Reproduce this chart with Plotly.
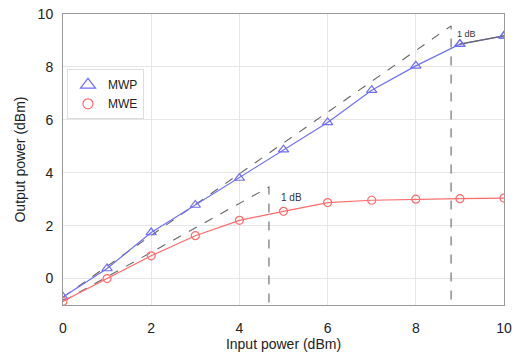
import plotly.graph_objects as go

# Data
input_power = [0, 1, 2, 3, 4, 5, 6, 7, 8, 9, 10]
mwp_output = [-0.7, 0.38, 1.74, 2.78, 3.8, 4.87, 5.9, 7.12, 8.04, 8.86, 9.17]
mwe_output = [-0.86, 0.0, 0.86, 1.62, 2.2, 2.54, 2.87, 2.96, 3.0, 3.02, 3.04]

# 1 dB compression reference lines (linear extrapolation then drop to axis)
mwp_ref_x = [0, 8.8, 8.8]
mwp_ref_y = [-0.7, 9.55, -1]
mwe_ref_x = [0, 4.67, 4.67]
mwe_ref_y = [-0.86, 3.46, -1]

x_ticks = [0, 2, 4, 6, 8, 10]
y_ticks = [0, 2, 4, 6, 8, 10]

blue = "#6f6ff5"
red = "#ff6b6b"
gray = "#666666"

fig = go.Figure()

fig.add_trace(go.Scatter(x=mwp_ref_x, y=mwp_ref_y, mode="lines",
                         line=dict(color=gray, width=1.1, dash="dash"),
                         showlegend=False, hoverinfo="skip"))
fig.add_trace(go.Scatter(x=mwe_ref_x, y=mwe_ref_y, mode="lines",
                         line=dict(color=gray, width=1.1, dash="dash"),
                         showlegend=False, hoverinfo="skip"))

fig.add_trace(go.Scatter(x=input_power, y=mwp_output, mode="lines+markers",
                         line=dict(color=blue, width=1.2),
                         marker=dict(symbol="triangle-up-open", size=9, color=blue, line=dict(width=1.2)),
                         showlegend=False))
fig.add_trace(go.Scatter(x=input_power[-2:], y=mwp_output[-2:], mode="lines",
                         line=dict(color="#666666", width=1.2),
                         showlegend=False, hoverinfo="skip"))
fig.add_trace(go.Scatter(x=input_power[-2:], y=mwp_output[-2:], mode="markers",
                         marker=dict(symbol="triangle-up-open", size=9, color=blue, line=dict(width=1.2)),
                         showlegend=False, hoverinfo="skip"))
fig.add_trace(go.Scatter(x=input_power, y=mwe_output, mode="lines+markers",
                         line=dict(color=red, width=1.2),
                         marker=dict(symbol="circle-open", size=8, color=red, line=dict(width=1.2)),
                         showlegend=False))

# Legend entries (markers only)
fig.add_trace(go.Scatter(x=[None], y=[None], mode="markers", name="MWP",
                         marker=dict(symbol="triangle-up-open", size=13, color=blue, line=dict(width=1.2))))
fig.add_trace(go.Scatter(x=[None], y=[None], mode="markers", name="MWE",
                         marker=dict(symbol="circle-open", size=10, color=red, line=dict(width=1.2))))

fig.add_annotation(x=8.89, y=9.25, text="1 dB", showarrow=False, xanchor="left",
                   font=dict(size=9, color="#333333"))
fig.add_annotation(x=4.9, y=3.07, text="1 dB", showarrow=False, xanchor="left",
                   font=dict(size=10, color="#333333"))

fig.update_layout(
    width=512, height=362,
    margin=dict(l=63, r=8, t=14, b=57),
    paper_bgcolor="white", plot_bgcolor="white",
    font=dict(family="Liberation Sans, Arial, sans-serif", color="#222222"),
    legend=dict(x=0.009, y=0.81, xanchor="left", yanchor="top",
                bordercolor="#dddddd", borderwidth=1, bgcolor="white",
                font=dict(size=12), itemwidth=30, tracegroupgap=0,
                entrywidth=62, entrywidthmode="pixels"),
)
fig.update_xaxes(range=[0, 10], tickvals=x_ticks, ticktext=[str(v) for v in x_ticks],
                 automargin=False, ticklabelstandoff=10, ticklabeloverflow="allow",
                 showgrid=True, gridcolor="#e6e6e6", gridwidth=1,
                 showline=True, linecolor="#999999", linewidth=1, mirror=True,
                 zeroline=False, ticks="", tickfont=dict(size=14),
                 title=dict(text="Input power (dBm)", font=dict(size=14), standoff=4))
fig.update_yaxes(range=[-1, 10], tickvals=y_ticks, ticktext=[str(v) for v in y_ticks],
                 automargin=False, ticklabelstandoff=6, ticklabeloverflow="allow",
                 showgrid=True, gridcolor="#e6e6e6", gridwidth=1,
                 showline=True, linecolor="#999999", linewidth=1, mirror=True,
                 zeroline=False, ticks="", tickfont=dict(size=14),
                 title=dict(text="Output power (dBm)", font=dict(size=14), standoff=8))

# Remove the default page margin so the 512x362 figure fills the window exactly
fig.write_html("out.html",
               config={"displayModeBar": False},
               post_script="document.documentElement.style.margin='0';"
                           "document.body.style.margin='0';"
                           "document.body.style.overflow='hidden';")
